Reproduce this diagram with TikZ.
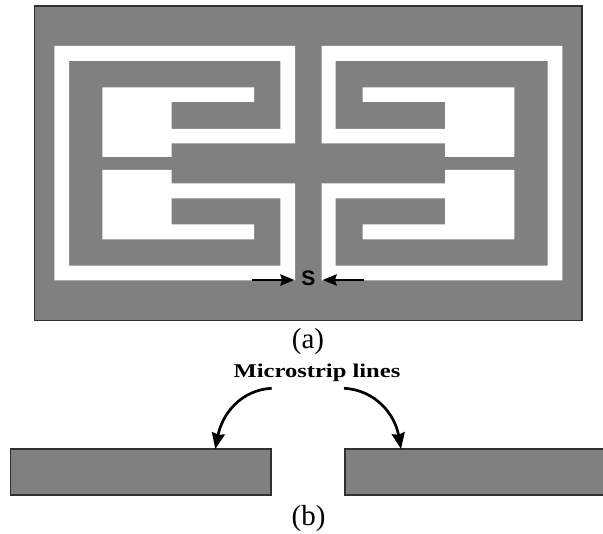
\documentclass[tikz,border=0pt]{standalone}
\usepackage{fontspec}
\usepackage{graphicx}
\usetikzlibrary{arrows.meta}
\setmainfont{Liberation Serif}
\newfontfamily\lsans{Liberation Sans}
\definecolor{metal}{HTML}{808080}
\definecolor{edge}{HTML}{303030}
\tikzset{
  metalbox/.style={draw=edge,fill=metal,line width=1.3pt},
  gap/.style={fill=white,draw=none},
  caption/.style={inner sep=0pt,font=\fontsize{29}{30}\selectfont},
  pointer/.style={draw=black,line width=2.8pt,-{Stealth[length=14pt,width=11pt,inset=1.5pt]}},
  curvearrow/.style={draw=black,line width=2.7pt,-{Stealth[length=16pt,width=13pt,inset=1.5pt]}}
}
\begin{document}
\begin{tikzpicture}[x=1pt,y=-1pt]
\useasboundingbox (0,0) rectangle (603,534);
% substrate
\path[metalbox] (34.5,6) rectangle (582,320.5);
% left slots
\path[gap] (295,46) -- (54.3,46) -- (54.3,280.3) -- (295,280.3) -- (295,183.3) -- (169,183.3)
  -- (169,198.3) -- (280.3,198.3) -- (280.3,265.7) -- (69,265.7) -- (69,61) -- (280.3,61)
  -- (280.3,129) -- (169,129) -- (169,143.3) -- (295,143.3) -- cycle;
\path[gap] (102.3,87.3) -- (254,87.3) -- (254,102) -- (171.7,102) -- (171.7,157) -- (102.3,157) -- cycle;
\path[gap] (102.3,170) -- (171.7,170) -- (171.7,224.3) -- (254,224.3) -- (254,239.3) -- (102.3,239.3) -- cycle;
% right slots
\path[gap] (321.7,46) -- (562.3,46) -- (562.3,280.3) -- (321.7,280.3) -- (321.7,183.3) -- (447.5,183.3)
  -- (447.5,198.3) -- (335.7,198.3) -- (335.7,265.7) -- (547.7,265.7) -- (547.7,61) -- (335.7,61)
  -- (335.7,129) -- (447.5,129) -- (447.5,143.3) -- (321.7,143.3) -- cycle;
\path[gap] (514.3,87.3) -- (362.7,87.3) -- (362.7,102) -- (445,102) -- (445,157) -- (514.3,157) -- cycle;
\path[gap] (514.3,170) -- (445,170) -- (445,224.3) -- (362.7,224.3) -- (362.7,239.3) -- (514.3,239.3) -- cycle;
% gap label
\node[inner sep=0pt,font=\lsans\bfseries\fontsize{21}{21}\selectfont] (s) at (308.3,278.5) {S};
\coordinate (sl) at (252,280);
\coordinate (sr) at (364,280);
\coordinate (slt) at (294.5,280);
\coordinate (srt) at (322.5,280);
\draw[pointer] (sl) -- (slt);
\draw[pointer] (sr) -- (srt);
% captions
\node[caption] (capa) at (308,342) {(a)};
\node[caption] (capb) at (308.5,519) {(b)};
\node[inner sep=0pt,font=\bfseries\fontsize{19.5}{20}\selectfont] (ms) at (317,373) {\scalebox{1.26}[1]{Microstrip lines}};
% microstrip lines
\path[metalbox] (10.3,449) rectangle (271,495);
\path[metalbox] (345,449) -- (604,449) -- (604,495) -- (345,495) -- cycle;
\coordinate (al) at (271.7,388.3);
\coordinate (ar) at (344,388.3);
\coordinate (tl) at (215.3,449);
\coordinate (tr) at (401,449);
\draw[curvearrow] (al) .. controls (240,390) and (222,415) .. (tl);
\draw[curvearrow] (ar) .. controls (376,390) and (395,415) .. (tr);
\end{tikzpicture}
\end{document}
